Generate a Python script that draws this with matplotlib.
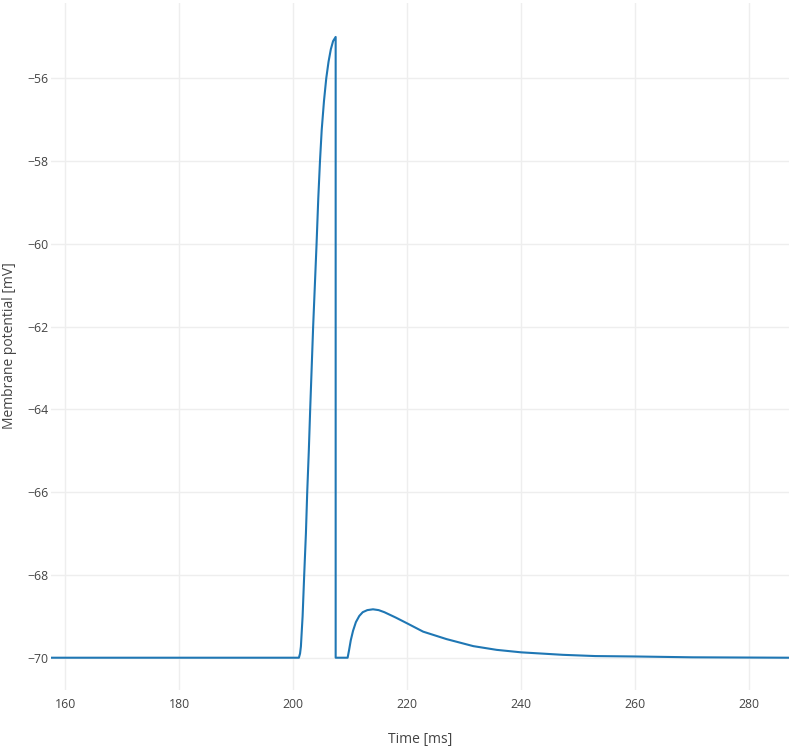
import matplotlib
matplotlib.use("Agg")
import matplotlib.pyplot as plt

plt.rcParams['font.family'] = ['Open Sans', 'DejaVu Sans']

time_ms = [157.5, 201.0, 201.2, 201.35, 201.65, 201.93, 202.23, 202.46, 202.74, 202.98,
           203.24, 203.5, 203.8, 204.1, 204.4, 204.7, 205.0, 205.4, 205.8, 206.2,
           206.6, 207.0, 207.45, 207.45, 209.55, 209.8, 210.1, 210.5, 211.0, 211.6,
           212.2, 213.0, 214.0, 215.0, 216.0, 218.0, 220.0, 222.8, 226.9, 231.6,
           235.7, 240.0, 247.3, 253.0, 260.0, 270.0, 287.0]
membrane_mv = [-70.0, -70.0, -69.9, -69.73, -69.0, -68.0, -67.0, -66.0, -65.0, -64.0,
               -63.0, -62.0, -61.0, -60.0, -58.9, -58.0, -57.25, -56.55, -56.0, -55.6,
               -55.3, -55.1, -55.0, -70.0, -70.0, -69.82, -69.58, -69.35, -69.14, -68.99,
               -68.9, -68.85, -68.83, -68.85, -68.9, -69.03, -69.17, -69.37, -69.55, -69.72,
               -69.81, -69.87, -69.93, -69.96, -69.97, -69.99, -70.0]

x_ticks = [160, 180, 200, 220, 240, 260, 280]
y_ticks = [-70, -68, -66, -64, -62, -60, -58, -56]

W, H = 789, 750
fig = plt.figure(figsize=(W / 100, H / 100), dpi=100)
left, right, top, bottom = 51, 789, 3, 690
ax = fig.add_axes([left / W, 1 - bottom / H, (right - left) / W, (bottom - top) / H])

ax.plot(time_ms, membrane_mv, color='#1f77b4', linewidth=1.5, solid_joinstyle='round')

ax.set_xlim(157.5, 287.0)
ax.set_ylim(-70.78, -54.18)
ax.set_xticks(x_ticks)
ax.set_yticks(y_ticks)
ax.grid(True, color='#eeeeee', linewidth=1.0)
ax.set_axisbelow(True)
for s in ax.spines.values():
    s.set_visible(False)
ax.tick_params(axis='both', length=0, labelsize=8.8, labelcolor='#444444')
ax.tick_params(axis='x', pad=6)
ax.tick_params(axis='y', pad=2)

fig.text((left + right) / 2 / W, 1 - 739 / H, 'Time [ms]', ha='center', va='center',
         fontsize=10, color='#444444')
fig.text(10 / W, 1 - 346 / H, 'Membrane potential [mV]', ha='center', va='center',
         rotation=90, fontsize=10, color='#444444')

fig.savefig('out.png', dpi=100)
